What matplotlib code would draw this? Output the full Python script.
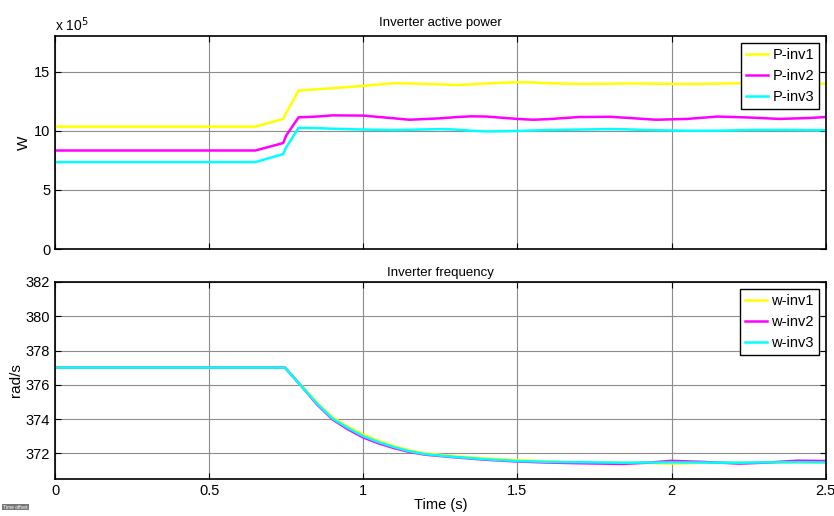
import matplotlib
matplotlib.use("Agg")
import matplotlib.pyplot as plt

plt.rcParams['font.family'] = ['Liberation Sans Narrow', 'Liberation Sans', 'DejaVu Sans']

# ---- data: active power (x 10^5 W) ----
t_p = [0.00, 0.65, 0.74, 0.75, 0.79, 0.85, 0.90, 1.00, 1.10, 1.15, 1.25, 1.30,
       1.35, 1.40, 1.50, 1.55, 1.60, 1.70, 1.80, 1.85, 1.95, 2.05, 2.15, 2.25,
       2.35, 2.45, 2.50]
p_inv1 = [10.35, 10.35, 11.0, 11.5, 13.4, 13.5, 13.6, 13.8, 14.02, 14.0, 13.92, 13.87,
          13.92, 14.0, 14.1, 14.08, 14.02, 13.96, 13.97, 14.0, 13.98, 13.94, 13.98, 14.04,
          14.05, 14.0, 13.98]
p_inv2 = [8.33, 8.33, 8.96, 9.6, 11.13, 11.2, 11.3, 11.28, 11.05, 10.93, 11.05, 11.15,
          11.22, 11.2, 11.0, 10.93, 10.98, 11.16, 11.18, 11.1, 10.93, 11.0, 11.2, 11.12,
          11.0, 11.08, 11.16]
p_inv3 = [7.35, 7.35, 8.03, 8.6, 10.25, 10.22, 10.17, 10.1, 10.06, 10.08, 10.14, 10.1,
          10.0, 9.94, 9.98, 10.02, 10.06, 10.1, 10.14, 10.12, 10.04, 10.0, 10.0, 10.06,
          10.08, 10.05, 10.04]

# ---- data: frequency (rad/s) ----
t_w = [0.00, 0.746, 0.80, 0.85, 0.90, 0.95, 1.00, 1.05, 1.10, 1.15, 1.20, 1.30,
       1.40, 1.50, 1.60, 1.70, 1.84, 1.92, 2.00, 2.10, 2.22, 2.30, 2.41, 2.50]
w_inv1 = [377.0, 377.0, 375.95, 374.95, 374.1, 373.55, 373.1, 372.72, 372.42, 372.17, 372.0, 371.82,
          371.7, 371.6, 371.52, 371.48, 371.45, 371.44, 371.4, 371.44, 371.46, 371.45, 371.47, 371.46]
w_inv2 = [377.0, 377.0, 375.9, 374.85, 373.98, 373.4, 372.92, 372.58, 372.3, 372.08, 371.92, 371.76,
          371.62, 371.52, 371.46, 371.42, 371.38, 371.45, 371.56, 371.5, 371.4, 371.45, 371.57, 371.55]
w_inv3 = [377.0, 377.0, 375.9, 374.9, 374.03, 373.48, 373.0, 372.65, 372.36, 372.12, 371.95, 371.78,
          371.65, 371.55, 371.5, 371.48, 371.45, 371.46, 371.47, 371.46, 371.45, 371.47, 371.48, 371.47]

x_ticks = [0, 0.5, 1, 1.5, 2, 2.5]
x_tick_labels = ['0', '0.5', '1', '1.5', '2', '2.5']
p_ticks = [0, 5, 10, 15]
w_ticks = [372, 374, 376, 378, 380, 382]

colors = ['#ffff00', '#ff00ff', '#00ffff']

fig = plt.figure(figsize=(8.34, 5.16), dpi=100)
ax1 = fig.add_axes([0.066, 0.5174, 0.924, 0.4126])
ax2 = fig.add_axes([0.066, 0.0717, 0.924, 0.3818])

def style(ax):
    ax.set_xlim(0, 2.5)
    ax.set_xticks(x_ticks)
    ax.grid(True, color='#8c8c8c', linewidth=0.8, linestyle='-')
    ax.tick_params(direction='in', top=True, right=True, length=4, labelsize=10.5,
                   width=0.8)
    for s in ax.spines.values():
        s.set_linewidth(1.2)

leg_kw = dict(loc='upper right', fontsize=10.5, fancybox=False, edgecolor='black',
              framealpha=1, handlelength=1.5, borderpad=0.35, labelspacing=0.5,
              handletextpad=0.3, borderaxespad=0.45)

# top
for v, c, lab in zip([p_inv1, p_inv2, p_inv3], colors, ['P-inv1', 'P-inv2', 'P-inv3']):
    ax1.plot(t_p, v, color=c, lw=1.8, label=lab)
style(ax1)
ax1.set_ylim(0, 18)
ax1.set_yticks(p_ticks)
ax1.set_xticklabels([])
ax1.set_ylabel('W', fontsize=11, labelpad=2)
ax1.set_title('Inverter active power', fontsize=9.5, pad=7)
ax1.text(0.0, 1.012, r'x 10$^5$', transform=ax1.transAxes, fontsize=10, ha='left', va='bottom')
leg1 = ax1.legend(**leg_kw)
leg1.get_frame().set_linewidth(1.0)

# bottom
for v, c, lab in zip([w_inv1, w_inv2, w_inv3], colors, ['w-inv1', 'w-inv2', 'w-inv3']):
    ax2.plot(t_w, v, color=c, lw=1.8, label=lab)
style(ax2)
ax2.set_ylim(370.5, 382)
ax2.set_yticks(w_ticks)
ax2.set_xticklabels(x_tick_labels)
ax2.set_ylabel('rad/s', fontsize=11, labelpad=2)
ax2.set_xlabel('Time (s)', fontsize=10.5, labelpad=0)
ax2.set_title('Inverter frequency', fontsize=9.5, pad=4)
leg2 = ax2.legend(**leg_kw)
leg2.get_frame().set_linewidth(1.0)

fig.text(0.003, 0.012, 'Time offset:', fontsize=3.5, color='white',
         bbox=dict(facecolor='#777777', edgecolor='none', pad=0.5), ha='left', va='bottom')

fig.savefig('out.png', dpi=100)
